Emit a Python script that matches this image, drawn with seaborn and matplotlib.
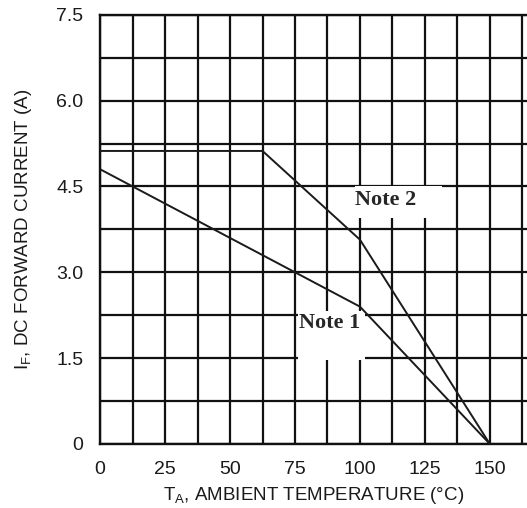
import numpy as np
import pandas as pd
import matplotlib
matplotlib.use('Agg')
import matplotlib.pyplot as plt
from matplotlib.patches import Rectangle
import seaborn as sns

# ── data ─────────────────────────────────────────────────────────────────────
temp_note1 = [0, 100, 150]
curr_note1 = [4.8, 2.4, 0.0]
temp_note2 = [0, 62.5, 100, 150]
curr_note2 = [5.12, 5.12, 3.57, 0.0]

x_ticks = [0, 25, 50, 75, 100, 125, 150]
y_ticks = [0, 1.5, 3.0, 4.5, 6.0, 7.5]
y_tick_labels = ["0", "1.5", "3.0", "4.5", "6.0", "7.5"]

df = pd.concat([
    pd.DataFrame({"temp": temp_note1, "curr": curr_note1, "curve": "Note 1"}),
    pd.DataFrame({"temp": temp_note2, "curr": curr_note2, "curve": "Note 2"}),
])

sns.set_style("white")
plt.rcParams['font.family'] = ['Liberation Sans', 'DejaVu Sans']
plt.rcParams['mathtext.default'] = 'regular'

fig = plt.figure(figsize=(5.27, 5.08), dpi=100)
ax = fig.add_axes([0.19, 0.126, 0.81, 0.845])

sns.lineplot(data=df, x="temp", y="curr", units="curve", estimator=None,
             color="#1a1a1a", linewidth=1.4, ax=ax, zorder=3, legend=False)

ax.set_xlim(0, 164.3)
ax.set_ylim(0, 7.5)
ax.set_xticks(x_ticks)
ax.set_yticks(y_ticks)
ax.set_yticklabels(y_tick_labels)
ax.set_xticks(np.arange(0, 165, 12.5), minor=True)
ax.set_yticks(np.arange(0, 7.6, 0.75), minor=True)
ax.grid(which="both", color="#111111", linewidth=1.6, zorder=1)
ax.set_axisbelow(True)
ax.tick_params(which="both", length=0, labelsize=14, pad=12, colors="#1a1a1a")

for s in ["left", "bottom", "top"]:
    ax.spines[s].set_color("#111111")
    ax.spines[s].set_linewidth(1.7)
ax.spines["right"].set_visible(False)

ax.set_xlabel("T$_A$, AMBIENT TEMPERATURE (°C)", fontsize=13.5, color="#1a1a1a", labelpad=5)
ax.set_ylabel("I$_F$, DC FORWARD CURRENT (A)", fontsize=13.5, color="#1a1a1a", labelpad=16)

# white label boxes covering the grid
ax.add_patch(Rectangle((98.0, 3.95), 33.5, 0.55, facecolor="white", edgecolor="none", zorder=2))
ax.add_patch(Rectangle((76.2, 1.47), 25.6, 0.85, facecolor="white", edgecolor="none", zorder=2))
ax.text(98.2, 4.27, "Note 2", fontsize=16, fontweight="bold", family="Liberation Serif",
        va="center", ha="left", zorder=4)
ax.text(76.4, 2.12, "Note 1", fontsize=16, fontweight="bold", family="Liberation Serif",
        va="center", ha="left", zorder=4)

fig.savefig("out.png", dpi=100)
